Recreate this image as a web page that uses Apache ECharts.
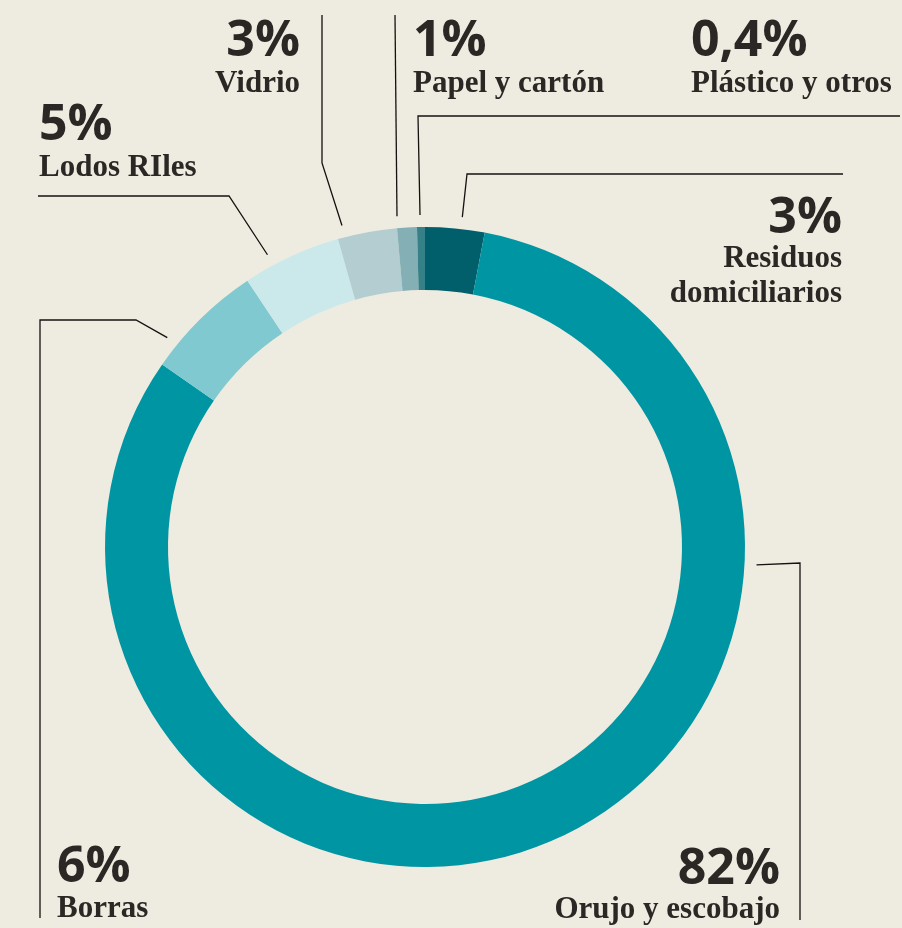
<!DOCTYPE html>
<html>
<head>
<meta charset="utf-8">
<script src="https://cdn.jsdelivr.net/npm/echarts@6/dist/echarts.min.js"></script>
<style>
  html, body { margin: 0; padding: 0; background: #eeebe0; }
  #chart { width: 902px; height: 928px; }
</style>
</head>
<body>
<div id="chart"></div>
<script>
// Waste composition (percent of total)
const categories = ['Residuos domiciliarios', 'Orujo y escobajo', 'Borras', 'Lodos RIles', 'Vidrio', 'Papel y cartón', 'Plástico y otros'];
const values = [3, 82, 6, 5, 3, 1, 0.4];
const sliceColors = ['#005f6b', '#0095a3', '#80c9d0', '#cbe9eb', '#b3cdd1', '#84afb5', '#368087'];

// Ring geometry
const CX = 425, CY = 547, R_IN = 257, R_OUT = 320, R_LEAD = 332;
const total = values.reduce((a, b) => a + b, 0);

// Angle (deg, clockwise from 12 o'clock) at fraction t through slice i
function sliceAngle(i, t) {
  let before = 0;
  for (let k = 0; k < i; k++) before += values[k];
  return (before + values[i] * t) / total * 360;
}
function rimPoint(i, t) {
  const a = sliceAngle(i, t) * Math.PI / 180;
  return [CX + R_LEAD * Math.sin(a), CY - R_LEAD * Math.cos(a)];
}
function pct(v) { return String(v).replace('.', ',') + '%'; }

// Callout layout: where each leader leaves the ring, its elbows, and the text block
const callouts = [
  { i: 0, t: 0.6,  path: [[467, 174], [843, 174]],           x: 842, align: 'right', numY: 233, nameY: 268, lines: ['Residuos', 'domiciliarios'] },
  { i: 1, t: 0.28, path: [[800, 563], [800, 920]],           x: 780, align: 'right', numY: 884, nameY: 919 },
  { i: 2, t: 0.2,  path: [[136, 320], [40, 320], [40, 918]], x: 57,  align: 'left',  numY: 882, nameY: 918 },
  { i: 3, t: 0.3,  path: [[229, 196], [38, 196]],            x: 39,  align: 'left',  numY: 140, nameY: 177 },
  { i: 4, t: 0.12, path: [[322, 163], [322, 15]],            x: 300, align: 'right', numY: 56,  nameY: 93 },
  { i: 5, t: 0.05, path: [[395, 15]],                        x: 413, align: 'left',  numY: 56,  nameY: 93 },
  { i: 6, t: 0.4,  path: [[418, 116], [900, 116]],           x: 691, align: 'left',  numY: 56,  nameY: 93 }
];

const NUM_FONT = 50, NAME_FONT = 31, NAME_LEADING = 35;
const numFont = 'bold ' + NUM_FONT + 'px "Open Sans"';
const nameFont = 'bold ' + NAME_FONT + 'px "Liberation Serif"';
const ink = '#2b2724';

function textEl(str, x, baseline, font, size, k, align) {
  const y = baseline - size * k;
  return {
    type: 'text', silent: true,
    style: { text: str, x: x, y: y, font: font, fill: ink,
             align: align, verticalAlign: 'middle', textAlign: align, textVerticalAlign: 'middle' }
  };
}

const graphics = [];
callouts.forEach(c => {
  const pts = [rimPoint(c.i, c.t)].concat(c.path);
  graphics.push({
    type: 'polyline', silent: true,
    shape: { points: pts },
    style: { stroke: '#141210', lineWidth: 1.3, fill: null }
  });
  graphics.push(textEl(pct(values[c.i]), c.x, c.numY, numFont, NUM_FONT, 0.285, c.align));
  const lines = c.lines || [categories[c.i]];
  lines.forEach((ln, j) => {
    graphics.push(textEl(ln, c.x, c.nameY + j * NAME_LEADING, nameFont, NAME_FONT, 0.305, c.align));
  });
});

const chart = echarts.init(document.getElementById('chart'), null, { renderer: 'canvas' });
chart.setOption({
  backgroundColor: '#eeebe0',
  animation: false,
  series: [{
    type: 'pie',
    center: [CX, CY],
    radius: [R_IN, R_OUT],
    startAngle: 90,
    clockwise: true,
    silent: true,
    label: { show: false },
    labelLine: { show: false },
    emphasis: { disabled: true },
    itemStyle: { borderWidth: 0 },
    data: categories.map((n, i) => ({ name: n, value: values[i], itemStyle: { color: sliceColors[i] } }))
  }],
  graphic: { elements: graphics }
});
</script>
</body>
</html>
